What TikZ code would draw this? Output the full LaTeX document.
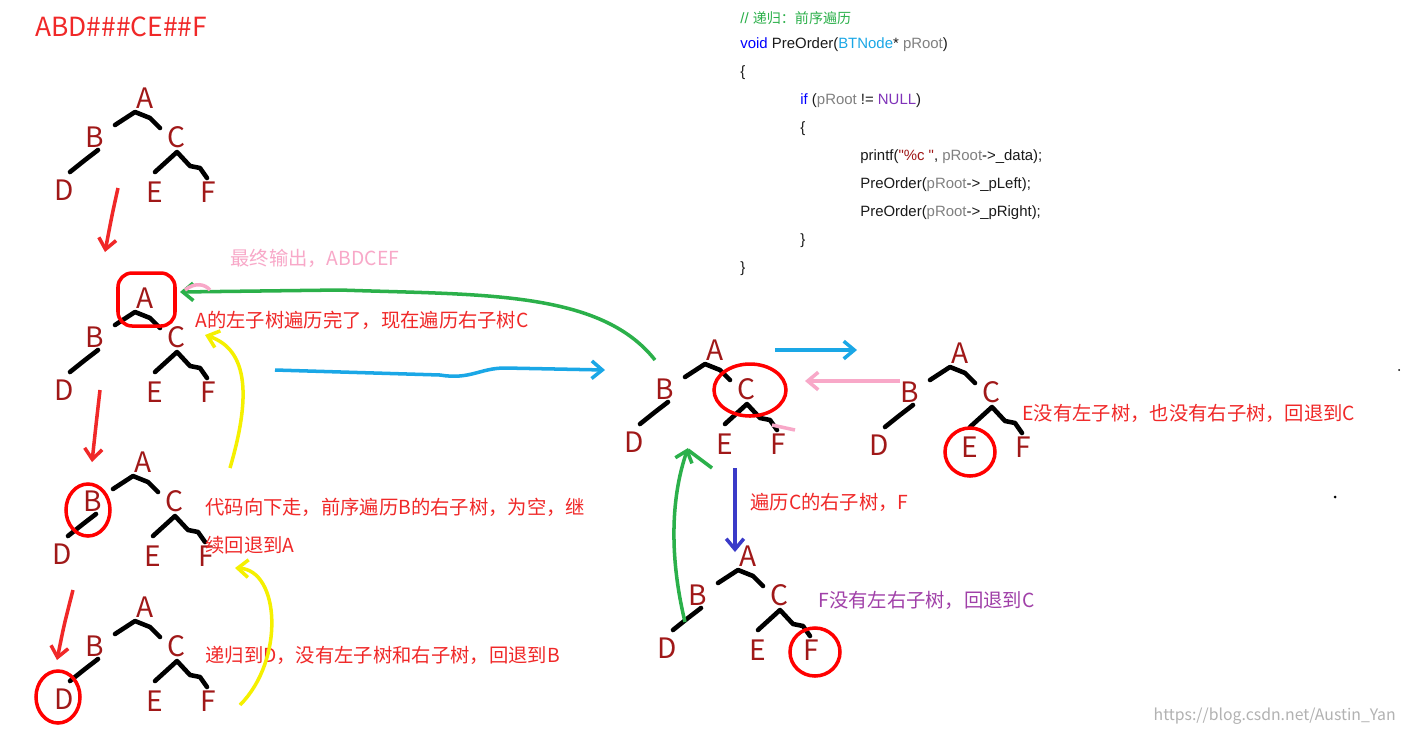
\documentclass[tikz,border=0pt]{standalone}
\usepackage{fontspec}
\setmainfont{Noto Sans CJK SC}
\newfontfamily\codefont{Liberation Sans}
\usetikzlibrary{arrows.meta}
\definecolor{dred}{HTML}{A01818}
\definecolor{lred}{HTML}{F02828}
\definecolor{cgreen}{HTML}{2BB04A}
\definecolor{cblue}{HTML}{1AA7E6}
\definecolor{cyel}{HTML}{F5F000}
\definecolor{cpink}{HTML}{F8A8C8}
\definecolor{cdblue}{HTML}{3A3AC8}
\definecolor{cpurp}{HTML}{A040A8}
\definecolor{ccode}{HTML}{1A1A1A}
\tikzset{
  lt/.style={text=dred,font=\fontsize{16}{16}\selectfont,inner sep=0pt},
  br/.style={line width=2.6pt,line cap=round,line join=round},
  lab/.style={anchor=west,font=\fontsize{11}{13}\selectfont,text=lred,inner sep=0pt},
  code/.style={anchor=west,font=\codefont\fontsize{8.5}{9}\selectfont,text=ccode,inner sep=0pt},
  arr/.style={line width=2pt,-{Straight Barb[length=6pt,width=10pt]}},
  circ/.style={draw=red,line width=2pt}
}
\newcommand\bintree[3]{%
\begin{scope}[shift={(#2,#3)}]
\node[lt] (#1A) at (0,0) {A};
\node[lt] (#1B) at (-50,39) {B};
\node[lt] (#1C) at (31,39) {C};
\node[lt] (#1D) at (-81,92) {D};
\node[lt] (#1E) at (10,94) {E};
\node[lt] (#1F) at (63,94) {F};
\draw[br] (-30,27) -- (-10,14) -- (5,20) -- (15,30);
\draw[br] (-47,52) -- (-60,62) -- (-75,74);
\draw[br] (10,74) -- (32,54) -- (45,68) -- (55,70) -- (62,80);
\end{scope}}
\begin{document}
\begin{tikzpicture}[x=0.02cm,y=-0.02cm]
\useasboundingbox[fill=white] (0,0) rectangle (1404,735);
\node[anchor=west,text=lred,font=\fontsize{15}{15}\selectfont,inner sep=0pt] (title) at (35,27) {ABD\#\#\#CE\#\#F};
\bintree{t1}{145}{98}
\bintree{t2}{145}{298}
\bintree{t3}{143}{462}
\bintree{t4}{145}{607}
\bintree{m}{715}{350}
\bintree{r}{960}{353}
\bintree{b}{748}{556}
% code
\node[code,text=cgreen] (c1) at (740,18) {// {\rmfamily\fontsize{8}{9}\selectfont 递归：前序遍历}};
\node[code] (c2) at (740,45) {\textcolor{blue}{void} PreOrder(\textcolor{cblue}{BTNode}* \textcolor{gray}{pRoot})};
\node[code] (c3) at (740,73) {\{};
\node[code] (c4) at (800,101) {\textcolor{blue}{if} (\textcolor{gray}{pRoot} != \textcolor{cpurp!80!blue}{NULL})};
\node[code] (c5) at (800,129) {\{};
\node[code] (c6) at (860,157) {printf(\textcolor{dred}{\symbol{34}\%c \symbol{34}}, \textcolor{gray}{pRoot}->\_data);};
\node[code] (c7) at (860,185) {PreOrder(\textcolor{gray}{pRoot}->\_pLeft);};
\node[code] (c8) at (860,213) {PreOrder(\textcolor{gray}{pRoot}->\_pRight);};
\node[code] (c9) at (800,241) {\}};
\node[code] (c10) at (740,269) {\}};
% labels
\node[lab,text=cpink] (l1) at (230,258) {最终输出，ABDCEF};
\node[lab] (l2) at (195,320) {A的左子树遍历完了，现在遍历右子树C};
\node[lab] (l3) at (205,507) {代码向下走，前序遍历B的右子树，为空，继};
\node[lab] (l3b) at (205,545) {续回退到A};
\node[lab] (l4) at (205,655) {递归到D，没有左子树和右子树，回退到B};
\node[lab] (l5) at (1022,413) {E没有左子树，也没有右子树，回退到C};
\node[lab] (l6) at (750,502) {遍历C的右子树，F};
\node[lab,text=cpurp] (l7) at (818,600) {F没有左右子树，回退到C};
\node[anchor=east,text=gray!60,font=\fontsize{9}{9}\selectfont,inner sep=0pt] (wm) at (1396,716) {https://blog.csdn.net/Austin\_Yan};
\fill (1335,497) circle (1.5);
\fill (1399,370) circle (1);
% circles
\draw[circ,rounded corners=8pt] (118,273) rectangle (175,326);
\draw[circ] (88,510) ellipse (22 and 26);
\draw[circ] (58,697) ellipse (22 and 26);
\draw[circ] (750,390) ellipse (36 and 26);
\draw[circ] (970,452) ellipse (25 and 24);
\draw[circ] (815,652) ellipse (25 and 24);
% coordinates for arrow ends
\coordinate (r1s) at (118,188); \coordinate (r1e) at (105,252);
\coordinate (r2s) at (100,390); \coordinate (r2e) at (92,462);
\coordinate (r3s) at (73,590); \coordinate (r3e) at (57,660);
\draw[arr,lred] (r1s) .. controls (112,215) .. (r1e);
\draw[arr,lred] (r2s) .. controls (96,425) .. (r2e);
\draw[arr,lred] (r3s) .. controls (64,625) .. (r3e);
\coordinate (g1s) at (655,360); \coordinate (g1e) at (180,292);
\draw[arr,cgreen] (g1s) .. controls (600,290) and (480,295) .. (340,290) -- (g1e);
\draw[cpink,line width=2pt] (185,290) .. controls (195,282) and (205,284) .. (210,290);
\coordinate (y1s) at (230,468); \coordinate (y1e) at (205,335);
\draw[arr,cyel] (y1s) .. controls (250,400) and (250,350) .. (y1e);
\coordinate (y2s) at (240,705); \coordinate (y2e) at (235,568);
\draw[arr,cyel] (y2s) .. controls (285,660) and (280,570) .. (y2e);
\coordinate (bl1s) at (275,370); \coordinate (bl1e) at (605,370);
\draw[arr,cblue] (bl1s) -- (440,375) .. controls (470,380) and (480,368) .. (505,368) -- (bl1e);
\coordinate (bl2s) at (775,350); \coordinate (bl2e) at (857,350);
\draw[arr,cblue] (bl2s) -- (bl2e);
\coordinate (p1s) at (900,381); \coordinate (p1e) at (805,381);
\draw[arr,cpink] (p1s) -- (p1e);
\draw[cpink,line width=2pt] (772,425) -- (795,430);
\coordinate (g2s) at (685,622); \coordinate (g2e) at (688,448);
\draw[arr,cgreen] (g2s) .. controls (670,560) and (670,500) .. (g2e);
\draw[cgreen,line width=2pt] (688,450) -- (712,468);
\coordinate (db1s) at (735,468); \coordinate (db1e) at (735,552);
\draw[arr,cdblue] (db1s) -- (db1e);
\end{tikzpicture}
\end{document}
